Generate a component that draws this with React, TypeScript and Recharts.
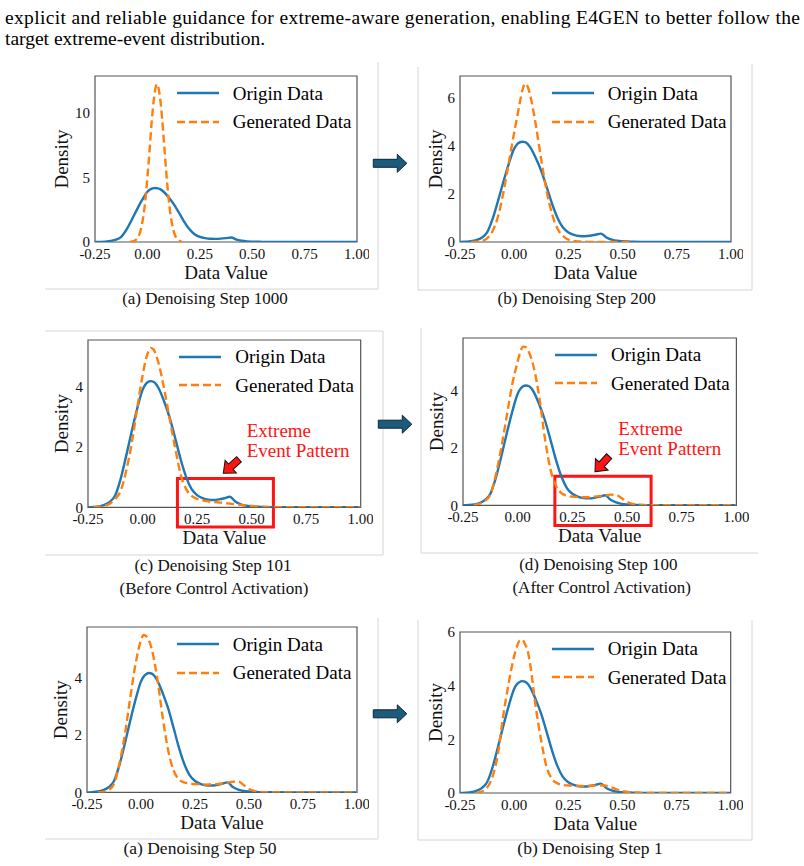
import React from 'react'
import { LineChart, Line, XAxis, YAxis, ReferenceArea, Legend } from 'recharts'

const FONT = "'Liberation Serif', 'Times New Roman', Times, serif"
const BLUE = '#1f77b4'
const ORANGE = '#ff7f0e'
const RED = '#ff1414'
const FRAME = '#555555'
const BORDER = '#d6d6d6'
const INK = '#111111'

// shared evaluation grid of the density estimates
const GRID_X = [
  -0.25, -0.225, -0.2, -0.175, -0.15, -0.125, -0.1, -0.075, -0.05, -0.025,
  0, 0.0125, 0.025, 0.0375, 0.05, 0.0625, 0.075, 0.1, 0.125, 0.15,
  0.175, 0.2, 0.225, 0.25, 0.275, 0.3, 0.325, 0.35, 0.375, 0.4,
  0.425, 0.45, 0.475, 0.5, 0.525, 0.55, 0.6, 0.7, 0.8, 0.9, 1.0,
]

// origin data density (same in every panel)
const ORIGIN_Y = [
  0, 0.01, 0.03, 0.08, 0.18, 0.4, 0.95, 1.7, 2.5, 3.25,
  3.88, 4.05, 4.14, 4.17, 4.15, 4.07, 3.92, 3.48, 2.95, 2.28,
  1.58, 1.0, 0.6, 0.4, 0.3, 0.25, 0.24, 0.26, 0.3, 0.35,
  0.19, 0.1, 0.05, 0.03, 0.02, 0.01, 0.005, 0, 0, 0, 0,
]

// generated data at step 1000 has its own, narrower support
const GEN_1000_X = [
  -0.085, -0.07, -0.05, -0.03, -0.01, 0, 0.01, 0.02, 0.03, 0.045,
  0.06, 0.07, 0.08, 0.09, 0.1, 0.11, 0.13, 0.15, 0.165,
]
const GEN_1000_Y = [
  0, 0.04, 0.25, 1.05, 3.2, 5.0, 7.0, 9.2, 10.9, 12.2,
  11.2, 9.6, 7.5, 5.4, 3.55, 2.15, 0.6, 0.13, 0,
]

const GEN_200_Y = [
  null, null, 0, 0.01, 0.04, 0.15, 0.45, 1.05, 2.05, 3.3,
  4.55, 5.15, 5.75, 6.3, 6.58, 6.45, 6.05, 4.85, 3.4, 2.1,
  1.15, 0.55, 0.25, 0.1, 0.04, 0.02, 0.01, 0.005, 0, 0,
  0, 0, 0, 0, 0, 0, null, null, null, null, null,
]

const GEN_101_Y = [
  null, 0.01, 0.02, 0.05, 0.12, 0.28, 0.55, 1.2, 2.1, 3.25,
  4.35, 4.8, 5.12, 5.27, 5.22, 5.02, 4.72, 3.88, 2.9, 1.95,
  1.08, 0.6, 0.38, 0.28, 0.23, 0.2, 0.18, 0.16, 0.14, 0.12,
  0.1, 0.08, 0.06, 0.045, 0.03, 0.02, 0.01, 0.003, 0, 0, 0,
]

const GEN_100_Y = [
  null, null, 0.01, 0.05, 0.15, 0.38, 1.05, 2.0, 3.1, 4.2,
  5.0, 5.35, 5.52, 5.5, 5.35, 5.1, 4.75, 3.7, 2.3, 1.25,
  0.68, 0.42, 0.33, 0.3, 0.29, 0.28, 0.28, 0.3, 0.32, 0.34,
  0.37, 0.36, 0.25, 0.12, 0.05, 0.02, 0.005, 0, 0, 0, 0,
]

const GEN_50_Y = [
  null, null, 0, 0.02, 0.08, 0.3, 1.0, 2.0, 3.3, 4.5,
  5.32, 5.5, 5.45, 5.3, 5.0, 4.55, 4.0, 2.65, 1.5, 0.78,
  0.46, 0.35, 0.31, 0.29, 0.28, 0.27, 0.28, 0.29, 0.31, 0.34,
  0.37, 0.38, 0.26, 0.12, 0.05, 0.02, 0.005, 0, 0, 0, 0,
]

const GEN_1_Y = [
  null, null, null, 0, 0.05, 0.2, 0.6, 1.45, 2.9, 4.1,
  5.1, 5.45, 5.68, 5.72, 5.55, 5.3, 4.75, 3.2, 1.95, 0.97,
  0.52, 0.36, 0.3, 0.28, 0.27, 0.26, 0.26, 0.27, 0.28, 0.29,
  0.27, 0.21, 0.13, 0.07, 0.04, 0.02, 0.005, 0, 0, 0, 0,
]

const X_TICKS = [-0.25, 0, 0.25, 0.5, 0.75, 1.0]

const LEGEND_ITEMS = [
  { label: 'Origin Data', color: BLUE, dash: undefined as string | undefined },
  { label: 'Generated Data', color: ORANGE, dash: '8 4' },
]

type Pt = { x: number; y: number }

function toPoints(xs: number[], ys: (number | null)[]): Pt[] {
  const out: Pt[] = []
  xs.forEach((x, i) => {
    const y = ys[i]
    if (y !== null && y !== undefined) out.push({ x, y })
  })
  return out
}

const origin = toPoints(GRID_X, ORIGIN_Y)

interface PanelSpec {
  key: string
  left: number
  top: number
  width: number
  height: number
  yMax: number
  yTicks: number[]
  yAxisW: number
  generated: Pt[]
  legendX: number
  box?: { x1: number; x2: number; y1: number; y2: number }
}

const PANELS: PanelSpec[] = [
  { key: 's1000', left: 95, top: 76, width: 262, height: 166, yMax: 12.83, yTicks: [0, 5, 10], yAxisW: 68,
    generated: toPoints(GEN_1000_X, GEN_1000_Y), legendX: 81.7 },
  { key: 's200', left: 460, top: 76, width: 271, height: 166, yMax: 6.9, yTicks: [0, 2, 4, 6], yAxisW: 50,
    generated: toPoints(GRID_X, GEN_200_Y), legendX: 91.7 },
  { key: 's101', left: 88.3, top: 339.7, width: 272.7, height: 167.3, yMax: 5.53, yTicks: [0, 2, 4], yAxisW: 53,
    generated: toPoints(GRID_X, GEN_101_Y), legendX: 91,
    box: { x1: 0.16, x2: 0.6, y1: -0.65, y2: 0.95 } },
  { key: 's100', left: 463.3, top: 337.7, width: 273.4, height: 167.3, yMax: 5.82, yTicks: [0, 2, 4], yAxisW: 53,
    generated: toPoints(GRID_X, GEN_100_Y), legendX: 91.7,
    box: { x1: 0.17, x2: 0.61, y1: -0.7, y2: 1.01 } },
  { key: 's50', left: 87.3, top: 627.3, width: 270, height: 165.4, yMax: 5.78, yTicks: [0, 2, 4], yAxisW: 53,
    generated: toPoints(GRID_X, GEN_50_Y), legendX: 89.4 },
  { key: 's1', left: 460, top: 631.7, width: 270.7, height: 161, yMax: 6.0, yTicks: [0, 2, 4, 6], yAxisW: 50,
    generated: toPoints(GRID_X, GEN_1_Y), legendX: 91.7 },
]

const CAPTIONS = [
  { x: 205, y: 303.5, size: 17, text: '(a) Denoising Step 1000' },
  { x: 576.7, y: 303.5, size: 17, text: '(b) Denoising Step 200' },
  { x: 213, y: 571, size: 17, text: '(c) Denoising Step 101' },
  { x: 214, y: 593.5, size: 17, text: '(Before Control Activation)' },
  { x: 598.3, y: 570.3, size: 17, text: '(d) Denoising Step 100' },
  { x: 601.7, y: 593.3, size: 17, text: '(After Control Activation)' },
  { x: 200, y: 854, size: 17.5, text: '(a) Denoising Step 50' },
  { x: 590, y: 854, size: 17.5, text: '(b) Denoising Step 1' },
]

// frames of the sub-figure images
const BORDERS = [
  [378, 62, 378, 289], [45, 289, 378, 289],
  [418, 67, 418, 290], [752, 64, 752, 290], [418, 290, 752, 290],
  [45, 331, 383, 331], [383, 331, 383, 555], [45, 555, 383, 555],
  [421, 328, 421, 553], [421, 553, 758, 553],
  [378, 618, 378, 839], [45, 839, 378, 839],
  [418, 620, 418, 840], [752, 620, 752, 840], [418, 840, 752, 840],
]

const STEP_ARROWS = [
  { x: 373.3, y: 163.3 },
  { x: 378.3, y: 424.2 },
  { x: 373.3, y: 713.8 },
]

const CALLOUTS = [
  { tipX: 223.3, tipY: 473.3, angle: 138.4, textX: 246.7, textY: 437.3 },
  { tipX: 595, tipY: 471.7, angle: 132.3, textX: 618.3, textY: 435.3 },
]

const M_TOP = 10
const M_RIGHT = 12
const X_AXIS_H = 60
const TICK_SIZE = 15

function XTick({ x, y, payload }: any) {
  return (
    <text x={x} y={y} dy="0.71em" textAnchor="middle" fontFamily={FONT} fontSize={TICK_SIZE} fill={INK}>
      {Number(payload.value).toFixed(2)}
    </text>
  )
}

function YTick({ x, y, payload }: any) {
  return (
    <text x={x} y={y} dy="0.355em" textAnchor="end" fontFamily={FONT} fontSize={TICK_SIZE} fill={INK}>
      {payload.value}
    </text>
  )
}

function LegendBox() {
  return (
    <div style={{ fontFamily: FONT, fontSize: 19, color: '#000' }}>
      {LEGEND_ITEMS.map((it) => (
        <div key={it.label} style={{ display: 'flex', alignItems: 'center', height: 28.4, whiteSpace: 'nowrap' }}>
          <svg width={42} height={6} style={{ flex: 'none' }}>
            <line x1={0} y1={3} x2={42} y2={3} stroke={it.color} strokeWidth={2.4} strokeDasharray={it.dash} />
          </svg>
          <span style={{ marginLeft: 14, lineHeight: '19px' }}>{it.label}</span>
        </div>
      ))}
    </div>
  )
}

function DensityPanel({ spec }: { spec: PanelSpec }) {
  const w = spec.width + spec.yAxisW + M_RIGHT
  const h = spec.height + M_TOP + X_AXIS_H
  return (
    <div style={{ position: 'absolute', left: spec.left - spec.yAxisW, top: spec.top - M_TOP, width: w, height: h }}>
      <LineChart width={w} height={h} margin={{ top: M_TOP, right: M_RIGHT, bottom: 0, left: 0 }}>
        <XAxis
          dataKey="x"
          type="number"
          domain={[-0.25, 1]}
          ticks={X_TICKS}
          interval={0}
          allowDataOverflow
          tickLine={false}
          axisLine={false}
          tickSize={6}
          tickMargin={0}
          tick={<XTick />}
          height={X_AXIS_H}
          label={{ value: 'Data Value', position: 'center', fontSize: 19, fill: INK, fontFamily: FONT }}
        />
        <YAxis
          type="number"
          domain={[0, spec.yMax]}
          ticks={spec.yTicks}
          interval={0}
          allowDataOverflow
          tickLine={false}
          axisLine={false}
          tickSize={4}
          tickMargin={1}
          tick={<YTick />}
          width={spec.yAxisW}
          label={{ value: 'Density', angle: -90, position: 'center', fontSize: 19, fill: INK, fontFamily: FONT }}
        />
        <ReferenceArea x1={-0.25} x2={1} y1={0} y2={spec.yMax} fill="none" stroke={FRAME} strokeWidth={1.2} ifOverflow="visible" />
        <Line data={origin} dataKey="y" type="monotone" stroke={BLUE} strokeWidth={2.4}
          dot={false} activeDot={false} isAnimationActive={false} />
        <Line data={spec.generated} dataKey="y" type="monotone" stroke={ORANGE} strokeWidth={2.4}
          strokeDasharray="8 4" dot={false} activeDot={false} isAnimationActive={false} />
        {spec.box && (
          <ReferenceArea x1={spec.box.x1} x2={spec.box.x2} y1={spec.box.y1} y2={spec.box.y2}
            fill="none" stroke={RED} strokeWidth={3} ifOverflow="visible" />
        )}
        <Legend
          layout="horizontal"
          verticalAlign="middle"
          align="center"
          content={() => <LegendBox />}
          wrapperStyle={{ left: spec.yAxisW + spec.legendX, top: M_TOP + 3, width: 'auto', height: 'auto' }}
        />
      </LineChart>
    </div>
  )
}

function stepArrowPath(x: number, y: number) {
  return `M${x},${y - 4} L${x + 24},${y - 4} L${x + 24},${y - 9} L${x + 33.5},${y} L${x + 24},${y + 9} L${x + 24},${y + 4} L${x},${y + 4} Z`
}

export default function App() {
  return (
    <div style={{ position: 'absolute', left: 0, top: 0, width: 804, height: 866, background: '#fff', overflow: 'hidden' }}>
      {PANELS.map((p) => (
        <DensityPanel key={p.key} spec={p} />
      ))}
      <svg width={804} height={866} style={{ position: 'absolute', left: 0, top: 0, pointerEvents: 'none' }}>
        <g fontFamily={FONT} fill="#000" fontSize={19.5}>
          <text x={5} y={24} textLength={795} lengthAdjust="spacing">
            explicit and reliable guidance for extreme-aware generation, enabling E4GEN to better follow the
          </text>
          <text x={5} y={45}>target extreme-event distribution.</text>
        </g>
        {BORDERS.map((b, i) => (
          <line key={i} x1={b[0]} y1={b[1]} x2={b[2]} y2={b[3]} stroke={BORDER} strokeWidth={1} />
        ))}
        {STEP_ARROWS.map((a, i) => (
          <path key={i} d={stepArrowPath(a.x, a.y)} fill="#1c5b7c" stroke="#0b2536" strokeWidth={1} />
        ))}
        {CALLOUTS.map((c, i) => (
          <g key={i}>
            <g transform={`translate(${c.tipX},${c.tipY}) rotate(${c.angle})`}>
              <path d="M0,0 L-10,-8.5 L-10,-3.5 L-21,-3.5 L-21,3.5 L-10,3.5 L-10,8.5 Z" fill={RED} stroke="#111" strokeWidth={1} />
            </g>
            <text x={c.textX} y={c.textY} fontFamily={FONT} fontSize={19} fill={RED}>Extreme</text>
            <text x={c.textX} y={c.textY + 19.2} fontFamily={FONT} fontSize={19} fill={RED}>Event Pattern</text>
          </g>
        ))}
        <g fontFamily={FONT} fill={INK} textAnchor="middle">
          {CAPTIONS.map((c, i) => (
            <text key={i} x={c.x} y={c.y} fontSize={c.size}>{c.text}</text>
          ))}
        </g>
      </svg>
    </div>
  )
}
